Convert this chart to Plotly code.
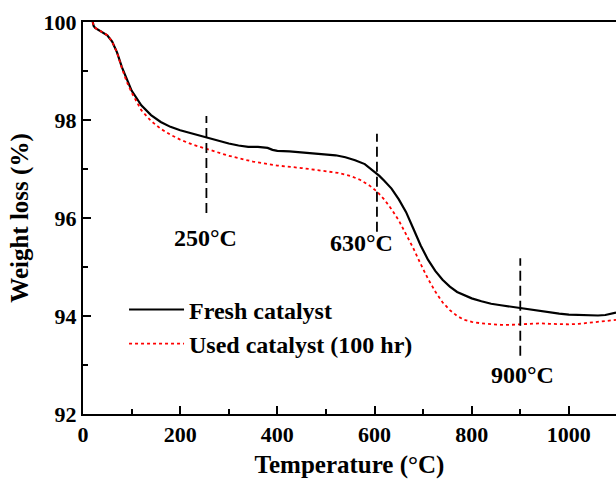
import plotly.graph_objects as go

# Fresh catalyst (black solid)
fresh_t = [20, 22, 25, 30, 40, 50, 60, 70, 80, 90, 100, 120, 140, 160, 180, 200, 225, 250, 275, 300,
           320, 340, 360, 380, 390, 400, 425, 450, 475, 500, 520, 540, 560, 580, 600, 610, 620, 635,
           650, 665, 680, 695, 710, 725, 740, 755, 770, 785, 800, 820, 840, 860, 880, 900, 920,
           940, 960, 980, 1000, 1020, 1040, 1060, 1075, 1085, 1097]
fresh_w = [100.0, 99.92, 99.88, 99.85, 99.8, 99.73, 99.6, 99.38, 99.08, 98.82, 98.6, 98.3, 98.1, 97.96,
           97.86, 97.79, 97.72, 97.65, 97.58, 97.52, 97.48, 97.45, 97.45, 97.43, 97.39, 97.37, 97.36,
           97.34, 97.32, 97.31, 97.28, 97.24, 97.18, 97.1, 96.95, 96.86, 96.76, 96.6, 96.38, 96.12,
           95.78, 95.44, 95.15, 94.92, 94.74, 94.6, 94.49, 94.42, 94.36, 94.3, 94.25, 94.22, 94.19,
           94.16, 94.13, 94.1, 94.08, 94.05, 94.03, 94.02, 94.02, 94.01, 94.02, 94.05, 94.07]

# Used catalyst (100 hr) (red dotted)
used_t = [20, 22, 25, 30, 40, 50, 60, 70, 80, 90, 100, 120, 140, 160, 180, 200, 225, 250, 275, 300,
          350, 400, 450, 500, 525, 550, 570, 590, 605, 620, 635, 650, 665, 680, 695, 710, 725, 740,
          755, 770, 785, 800, 820, 840, 860, 880, 900, 920, 940, 960, 980, 1000, 1020, 1040, 1060,
          1080, 1097]
used_w = [100.0, 99.92, 99.88, 99.85, 99.8, 99.73, 99.6, 99.38, 99.06, 98.78, 98.56, 98.2, 97.98, 97.82,
          97.7, 97.6, 97.5, 97.42, 97.34, 97.27, 97.15, 97.07, 97.02, 96.96, 96.92, 96.86, 96.78,
          96.66, 96.54, 96.38, 96.18, 95.95, 95.68, 95.38, 95.06, 94.76, 94.5, 94.28, 94.12, 94.0,
          93.92, 93.88, 93.85, 93.83, 93.82, 93.82, 93.83, 93.84, 93.85, 93.84, 93.83, 93.83, 93.84,
          93.86, 93.88, 93.9, 93.92]

series_names = ["Fresh catalyst", "Used catalyst (100 hr)"]

# Marked temperatures
mark_x = [254, 605, 900]
mark_y0 = [96.1, 95.72, 93.19]
mark_y1 = [98.08, 97.72, 95.18]
mark_labels = ["250°C", "630°C", "900°C"]
mark_label_x = [252, 574, 905]
mark_label_y = [95.59, 95.49, 92.8]

FONT = "Liberation Serif, Times New Roman, serif"
BIG = dict(family=FONT, size=24, color="black", weight="bold")
TICK = dict(family=FONT, size=22, color="black", weight="bold")
TITLE = dict(family=FONT, size=25, color="black", weight="bold")

fig = go.Figure()
fig.add_trace(go.Scatter(x=fresh_t, y=fresh_w, mode="lines", name=series_names[0],
                         line=dict(color="black", width=2.2)))
fig.add_trace(go.Scatter(x=used_t, y=used_w, mode="lines", name=series_names[1],
                         line=dict(color="red", width=1.8, dash="dot")))

for xm, y0, y1 in zip(mark_x, mark_y0, mark_y1):
    fig.add_shape(type="line", x0=xm, x1=xm, y0=y0, y1=y1, xref="x", yref="y",
                  line=dict(color="black", width=1.8, dash="10px,5px"))
for lab, lx, ly in zip(mark_labels, mark_label_x, mark_label_y):
    fig.add_annotation(x=lx, y=ly, text=lab, showarrow=False, xref="x", yref="y", font=BIG)

fig.update_layout(
    width=616, height=479, autosize=False,
    margin=dict(l=83, r=0, t=22, b=65, pad=0, autoexpand=False),
    plot_bgcolor="white", paper_bgcolor="white",
    font=dict(family=FONT, color="black"),
    showlegend=True,
    legend=dict(x=0.077, y=0.323, xanchor="left", yanchor="top", bgcolor="rgba(0,0,0,0)",
                font=BIG, tracegroupgap=0, itemwidth=55),
    xaxis=dict(range=[0, 1097], showgrid=False, zeroline=False, automargin=False,
               showline=True, linecolor="black", linewidth=2, mirror=True,
               ticks="inside", ticklen=8, tickwidth=2, tickcolor="black",
               tick0=0, dtick=200,
               minor=dict(ticks="inside", ticklen=5, tickwidth=2, tickcolor="black", dtick=100),
               tickfont=TICK,
               title=dict(text="Temperature (°C)", standoff=12, font=TITLE)),
    yaxis=dict(range=[92, 100], showgrid=False, zeroline=False, automargin=False,
               showline=True, linecolor="black", linewidth=2, mirror=False,
               ticks="inside", ticklen=8, tickwidth=2, tickcolor="black",
               tick0=92, dtick=2,
               minor=dict(ticks="inside", ticklen=5, tickwidth=2, tickcolor="black", dtick=1),
               tickfont=TICK,
               title=dict(text="Weight loss (%)", standoff=8, font=TITLE)),
)

fig.write_html("out.html", config={"displayModeBar": False},
               post_script="document.body.style.margin='0';")
